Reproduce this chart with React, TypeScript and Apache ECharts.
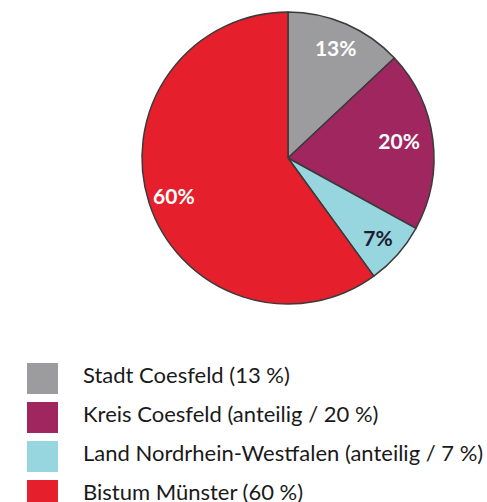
import React, { useEffect, useRef } from "react";
import * as echarts from "echarts";

const categories = [
  "Stadt Coesfeld (13 %)",
  "Kreis Coesfeld (anteilig / 20 %)",
  "Land Nordrhein-Westfalen (anteilig / 7 %)",
  "Bistum Münster (60 %)",
];
const values = [13, 20, 7, 60];
const sliceLabels = ["13%", "20%", "7%", "60%"];
const colors = ["#9c9c9e", "#a0265f", "#97d5df", "#e5202c"];
const labelColors = ["#ffffff", "#ffffff", "#1b2030", "#ffffff"];

export default function App() {
  const ref = useRef<HTMLDivElement>(null);
  useEffect(() => {
    if (!ref.current) return;
    const chart = echarts.init(ref.current, null, { renderer: "svg" });
    const font = "Lato, 'Open Sans', sans-serif";
    const legendItems: any[] = [];
    categories.forEach((name, i) => {
      legendItems.push({
        type: "rect",
        shape: { x: 27, y: 363 + i * 39, width: 31, height: 31 },
        style: { fill: colors[i] },
        silent: true,
      });
      legendItems.push({
        type: "text",
        x: 83,
        y: 374 + i * 39,
        style: {
          text: name,
          fill: "#1a1a1a",
          font: `22px ${font}`,
          verticalAlign: "middle",
          align: "left",
        },
        silent: true,
      });
    });
    chart.setOption({
      animation: false,
      graphic: legendItems,
      series: [
        {
          type: "pie",
          center: [288, 158],
          radius: [0, 146],
          startAngle: 90,
          clockwise: true,
          silent: true,
          label: { show: false },
          labelLine: { show: false },
          itemStyle: { borderColor: "#3a3a3a", borderWidth: 1.5 },
          data: categories.map((name, i) => ({
            name,
            value: values[i],
            itemStyle: { color: colors[i] },
          })),
        },
        {
          type: "pie",
          center: [288, 158],
          radius: [88, 146],
          startAngle: 90,
          clockwise: true,
          silent: true,
          labelLine: { show: false },
          itemStyle: { color: "transparent", borderWidth: 0 },
          data: categories.map((name, i) => ({
            name: name + " ",
            value: values[i],
            label: {
              show: true,
              position: "inside",
              formatter: sliceLabels[i],
              color: labelColors[i],
              fontFamily: font,
              fontWeight: "bold",
              fontSize: 21,
              offset: i === 1 ? [-8, -2] : [0, 0],
            },
          })),
        },
      ],
    });
    return () => chart.dispose();
  }, []);
  return (
    <div
      ref={ref}
      style={{ position: "fixed", left: 0, top: 0, width: 487, height: 502, background: "#fff" }}
    />
  );
}
